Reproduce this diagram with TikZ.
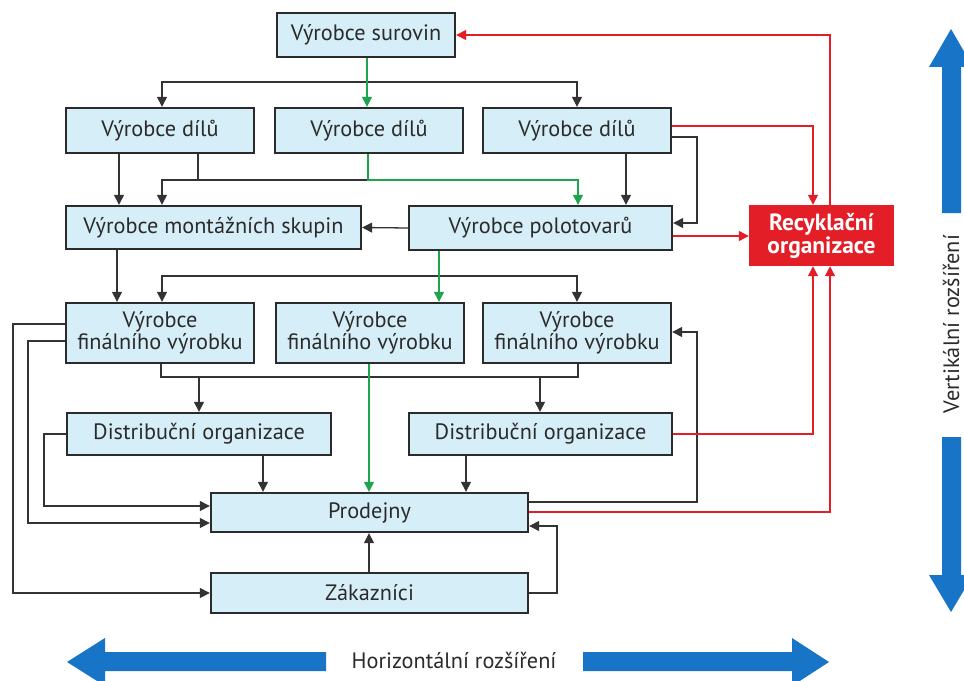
\documentclass[tikz,border=0pt]{standalone}
\usepackage{fontspec}
\setmainfont{PT Sans}
\usetikzlibrary{arrows.meta}

\definecolor{boxfill}{HTML}{D6EEF8}
\definecolor{boxline}{HTML}{2B2B2B}
\definecolor{recred}{HTML}{E31E26}
\definecolor{flowgreen}{HTML}{1EA44C}
\definecolor{flowblack}{HTML}{333333}
\definecolor{axisblue}{HTML}{1874C6}

% box from corner (x1,y1) to (x2,y2): [style]{x1}{y1}{x2}{y2}{name}{text}
\newcommand\mkbox[7][box]{%
  \node[#1, minimum width={(#4-#2)*0.03cm}, minimum height={(#5-#3)*0.03cm}]
    (#6) at ({(#2+#4)/2},{(#3+#5)/2}) {#7};}

\begin{document}
\begin{tikzpicture}[x=0.03cm, y=-0.03cm,
  box/.style={draw=boxline, line width=2pt, fill=boxfill, text=boxline,
    font=\fontsize{19}{18.5}\selectfont, align=center, inner sep=0pt},
  recbox/.style={fill=recred, text=white,
    font=\fontsize{20}{19.5}\selectfont\bfseries, align=center, inner sep=0pt},
  tip/.style={-{Triangle[length=8.5pt,width=8.5pt]}},
  link/.style={line width=1.1pt, draw=flowblack},
  arr/.style={link, tip},
  garr/.style={line width=1.1pt, draw=flowgreen, tip},
  rarr/.style={line width=1.1pt, draw=recred, tip},
  axislabel/.style={text=boxline, font=\fontsize{19}{19}\selectfont, inner sep=0pt}
]
\useasboundingbox[fill=white] (0,0) rectangle (964,681);

% organisations
\mkbox{277}{13}{455}{57}{sur}{Výrobce surovin}
\mkbox{66}{108}{254}{153}{d1}{Výrobce dílů}
\mkbox{275}{108}{463}{153}{d2}{Výrobce dílů}
\mkbox{483}{108}{671}{153}{d3}{Výrobce dílů}
\mkbox{66}{206}{361}{249}{mont}{Výrobce montážních skupin}
\mkbox{409}{206}{672}{250}{polo}{Výrobce polotovarů}
\mkbox[recbox]{749}{205}{894}{266}{rec}{Recyklační\\organizace}
\mkbox{66}{303}{254}{363}{f1}{Výrobce\\finálního výrobku}
\mkbox{276}{303}{464}{363}{f2}{Výrobce\\finálního výrobku}
\mkbox{483}{303}{671}{363}{f3}{Výrobce\\finálního výrobku}
\mkbox{67}{413}{331}{455}{dist1}{Distribuční organizace}
\mkbox{409}{413}{672}{455}{dist2}{Distribuční organizace}
\mkbox{211}{493}{528}{532}{prod}{Prodejny}
\mkbox{211}{573}{528}{613}{zak}{Zákazníci}

% junctions
\coordinate (jA) at (367,82);
\coordinate (jB) at (368,180);
\coordinate (jB1) at (198,180);
\coordinate (jC) at (439,276);
\coordinate (jD) at (161,377);
\coordinate (jD1) at (199,377);
\coordinate (jD2) at (540,377);
\coordinate (jD3) at (578,377);

% raw materials -> parts
\draw[link] (367,0 |- sur.south) -- (jA);
\draw[arr] (jA) -| (162,0 |- d1.north);
\draw[arr] (jA) -| (577,0 |- d3.north);
\draw[garr] (367,0 |- sur.south) -- (367,0 |- d2.north);

% parts -> assemblies and semi-products
\draw[arr] (119,0 |- d1.south) -- (119,0 |- mont.north);
\draw[link] (198,0 |- d1.south) -- (jB1);
\draw[arr] (368,0 |- d2.south) -- (jB) -| (162,0 |- mont.north);
\draw[garr] (368,0 |- d2.south) -- (jB) -| (578,0 |- polo.north);
\draw[arr] (626,0 |- d3.south) -- (626,0 |- polo.north);
\draw[arr] (d3.east |- 0,137) -| (697,223) -- (polo.east |- 0,223);
\draw[arr] (polo.west) -- (mont.east);

% assemblies and semi-products -> final products
\draw[arr] (117,0 |- mont.south) -- (117,0 |- f1.north);
\draw[link] (439,0 |- polo.south) -- (jC);
\draw[arr] (jC) -| (162,0 |- f1.north);
\draw[arr] (jC) -| (577,0 |- f3.north);
\draw[garr] (439,0 |- polo.south) -- (439,0 |- f2.north);

% final products -> distribution
\draw[link] (161,0 |- f1.south) -- (jD) -- (jD3) -- (578,0 |- f3.south);
\draw[arr] (jD1) -- (199,0 |- dist1.north);
\draw[arr] (jD2) -- (540,0 |- dist2.north);

% -> shops and customers
\draw[garr] (369,0 |- f2.south) -- (369,0 |- prod.north);
\draw[arr] (263,0 |- dist1.south) -- (263,0 |- prod.north);
\draw[arr] (466,0 |- dist2.south) -- (466,0 |- prod.north);
\draw[arr] (dist1.west |- 0,434) -| (44,506) -- (prod.west |- 0,506);
\draw[arr] (f1.west |- 0,341) -| (28,523) -- (prod.west |- 0,523);
\draw[arr] (f1.west |- 0,324) -| (13,593) -- (zak.west |- 0,593);
\draw[arr] (369,0 |- zak.north) -- (369,0 |- prod.south);
\draw[arr] (zak.east |- 0,593) -| (557,526) -- (prod.east |- 0,526);
\draw[arr] (prod.east |- 0,502) -| (697,332) -- (f3.east |- 0,332);

% recycling flows
\draw[rarr] (830,0 |- rec.north) |- (sur.east);
\draw[rarr] (d3.east |- 0,126) -| (813,0 |- rec.north);
\draw[rarr] (polo.east |- 0,236) -- (rec.west |- 0,236);
\draw[rarr] (dist2.east |- 0,434) -| (813,0 |- rec.south);
\draw[rarr] (prod.east |- 0,512) -| (830,0 |- rec.south);

% expansion axes
\fill[axisblue] (942,213) -- (942,67) -- (929,67) -- (951,29) -- (973,67)
  -- (961,67) -- (961,213) -- cycle;
\fill[axisblue] (942,437) -- (942,575) -- (929,575) -- (951,612) -- (973,575)
  -- (961,575) -- (961,437) -- cycle;
\node[axislabel, rotate=90] (vlab) at (951,324) {Vertikální rozšíření};
\fill[axisblue] (326,652) -- (105,652) -- (105,638) -- (67,662) -- (105,686)
  -- (105,671) -- (326,671) -- cycle;
\fill[axisblue] (583,652) -- (792,652) -- (792,638) -- (829,662) -- (792,686)
  -- (792,671) -- (583,671) -- cycle;
\node[axislabel] (hlab) at (454,660) {Horizontální rozšíření};
\end{tikzpicture}
\end{document}
